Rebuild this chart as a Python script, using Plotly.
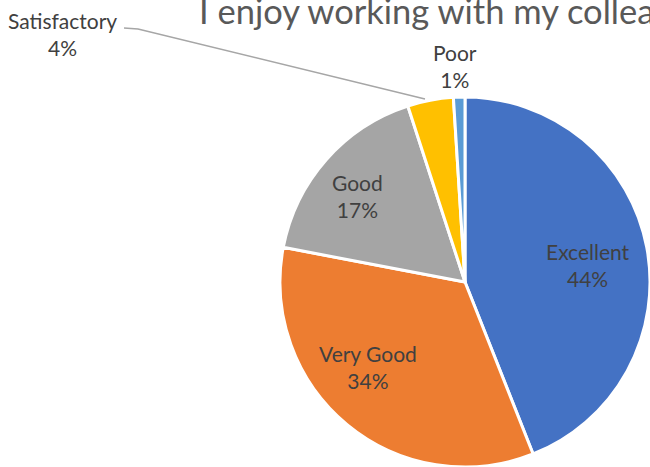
import plotly.graph_objects as go

categories = ["Excellent", "Very Good", "Good", "Satisfactory", "Poor"]
values = [44, 34, 17, 4, 1]
colors = ["#4472C4", "#ED7D31", "#A5A5A5", "#FFC000", "#5B9BD5"]
title_text = "I enjoy working with my colleagues"

W, H = 650, 467
FONT = "Lato, Open Sans, sans-serif"

fig = go.Figure(go.Pie(
    labels=categories,
    values=values,
    sort=False,
    direction="clockwise",
    rotation=0,
    marker=dict(colors=colors, line=dict(color="white", width=3)),
    textinfo="none",
    hoverinfo="label+percent",
    domain=dict(x=[280 / W, 1.0], y=[0, 370 / H]),
    showlegend=False,
))

# label centres in pixels (x, y from top)
label_pos = {
    "Excellent": (588, 265),
    "Very Good": (368, 367),
    "Good": (357, 196),
    "Satisfactory": (62, 34),
    "Poor": (455, 66),
}
total = sum(values)
annotations = []
for cat, v in zip(categories, values):
    px, py = label_pos[cat]
    annotations.append(dict(
        x=px / W, y=1 - py / H, xref="paper", yref="paper",
        text=f"{cat}<br>{round(100 * v / total)}%",
        showarrow=False, xanchor="center", yanchor="middle",
        font=dict(family=FONT, size=21, color="#404040"),
        align="center",
    ))

annotations.append(dict(
    x=197 / W, y=1 - 10 / H, xref="paper", yref="paper",
    text=title_text, showarrow=False, xanchor="left", yanchor="middle",
    font=dict(family=FONT, size=34.5, color="#595959"),
))

shapes = [
    dict(type="path", xref="paper", yref="paper",
         path=f"M {124/W} {1-28/H} L {138/W} {1-29/H} L {425/W} {1-99/H}",
         line=dict(color="#A6A6A6", width=1.5)),
]

fig.update_layout(
    width=W, height=H,
    margin=dict(l=0, r=0, t=0, b=0),
    paper_bgcolor="white",
    plot_bgcolor="white",
    annotations=annotations,
    shapes=shapes,
)

fig.write_html(
    "out.html",
    config={"displayModeBar": False},
    post_script="document.body.style.margin='0';",
)
